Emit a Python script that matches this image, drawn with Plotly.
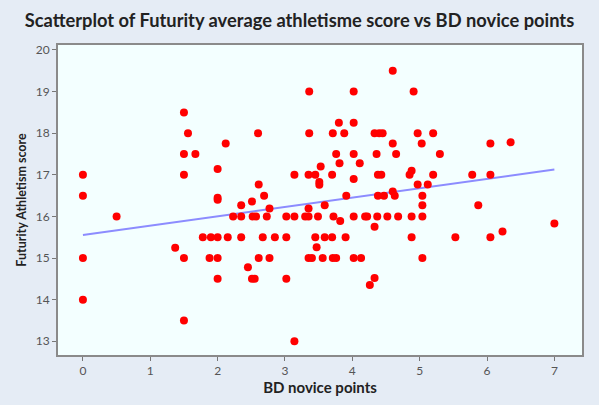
import numpy as np
import plotly.graph_objects as go

# BD novice points vs Futurity average athletism score
bd_points = [
    0, 0, 0, 0, 0.5, 1.5, 1.56, 1.5, 1.67, 1.5, 1.37, 1.5, 1.5,
    2.0, 2.12, 2.0, 2.0, 1.78, 1.9, 2.0, 2.15, 1.88, 2.0, 2.0,
    2.23, 2.35, 2.52, 2.57, 2.73, 2.35, 2.51, 2.61, 2.69, 2.77, 2.6,
    2.35, 2.67, 2.85, 3.02, 2.45, 2.51, 2.55, 2.61, 2.77, 3.02, 3.14,
    3.02, 3.14, 3.14,
    3.36, 3.36, 3.35, 3.45, 3.53, 3.51, 3.51, 3.35, 3.30, 3.35, 3.49,
    3.59, 3.45, 3.59, 3.47, 3.35, 3.40, 3.56, 3.70, 3.71, 3.88, 3.80,
    4.02, 4.02, 3.76, 4.02, 3.81, 4.11, 4.02, 3.91, 3.72, 3.82, 3.70,
    3.90, 3.71, 3.76, 4.02, 4.19, 4.22, 4.37, 4.52, 4.68, 4.88, 5.04,
    4.02, 4.13, 4.33, 4.33, 4.26, 4.6, 4.91, 4.33, 4.40, 4.45, 4.97,
    5.2, 4.6, 5.03, 4.36, 4.65, 5.30, 4.38, 4.43, 4.85, 4.88, 5.2,
    4.97, 5.12, 4.38, 4.47, 4.6, 4.63, 5.04, 5.04, 4.88, 5.04,
    5.53, 5.78, 6.05, 5.87, 6.05, 6.35, 6.05, 6.23, 7.0,
]
athletism = [
    17, 16.5, 15, 14, 16, 18.5, 18, 17.5, 17.5, 17, 15.25, 15, 13.5,
    17.14, 17.75, 16.45, 16.4, 15.5, 15.5, 15.5, 15.5, 15, 15, 14.5,
    16, 16, 16, 16, 16, 16.27, 16.36, 16.77, 16.5, 16.19, 18,
    15.5, 15.5, 15.5, 15.5, 14.78, 14.5, 14.5, 15, 15, 14.5, 13.0,
    16, 16, 17,
    19, 18, 17, 17, 17.2, 16.83, 16.76, 16.19, 16, 16, 16,
    16.27, 15.5, 15.5, 15.26, 15, 15, 15, 17, 18, 18, 18.25,
    18.25, 19, 17.5, 17.5, 17.28, 17.28, 16.9, 16.5, 16, 15.89, 15.5,
    15.5, 15, 15, 16, 16, 16, 16, 16, 16, 16, 16,
    15, 15, 15.75, 14.52, 14.35, 19.5, 19, 18, 18, 18, 18,
    18, 17.75, 17.75, 17.5, 17.5, 17.5, 17, 17, 17, 17.1, 17,
    16.77, 16.77, 16.5, 16.5, 16.6, 16.5, 16.5, 16.27, 15.5, 15,
    15.5, 17, 17, 16.27, 17.75, 17.78, 15.5, 15.64, 15.83,
]

x_ticks = [0, 1, 2, 3, 4, 5, 6, 7]
y_ticks = [13, 14, 15, 16, 17, 18, 19, 20]

# least squares fit line
slope, intercept = np.polyfit(bd_points, athletism, 1)
fit_x = [min(bd_points), max(bd_points)]
fit_y = [intercept + slope * v for v in fit_x]

fig = go.Figure()
fig.add_trace(go.Scatter(
    x=fit_x, y=fit_y, mode="lines",
    line=dict(color="#8c8cff", width=2),
    hoverinfo="skip",
))
fig.add_trace(go.Scatter(
    x=bd_points, y=athletism, mode="markers",
    marker=dict(color="#ff0000", size=8, line=dict(width=0)),
))

axis_style = dict(
    showgrid=False, zeroline=False,
    showline=True, linecolor="#8a8a8a", linewidth=2, mirror=True,
    ticks="outside", ticklen=4, tickcolor="#777777", tickwidth=1,
    tickfont=dict(family="Lato", size=12, color="#555555"),
)

fig.update_layout(
    width=599, height=405,
    margin=dict(l=58, r=17, t=45, b=46),
    paper_bgcolor="#e5ecf5",
    plot_bgcolor="#f3ffff",
    showlegend=False,
    title=dict(
        text="<b>Scatterplot of Futurity average athletisme score vs BD novice points</b>",
        x=0.5, xanchor="center", y=0.95, yanchor="middle",
        font=dict(family="Lato", size=18.3, color="#222222"),
    ),
    xaxis=dict(
        range=[-0.37, 7.41], tickvals=x_ticks,
        title=dict(text="<b>BD novice points</b>", standoff=4,
                   font=dict(family="Lato", size=15, color="#222222")),
        **axis_style,
    ),
    yaxis=dict(
        range=[12.67, 20.12], tickvals=y_ticks,
        title=dict(text="<b>Futurity Athletism score</b>", standoff=6,
                   font=dict(family="Lato", size=12.5, color="#222222")),
        **axis_style,
    ),
)

# drop the default 8px page margin so the figure sits at the window corner
fig.write_html("out.html", config={"displayModeBar": False},
               post_script="document.body.style.margin='0';")
